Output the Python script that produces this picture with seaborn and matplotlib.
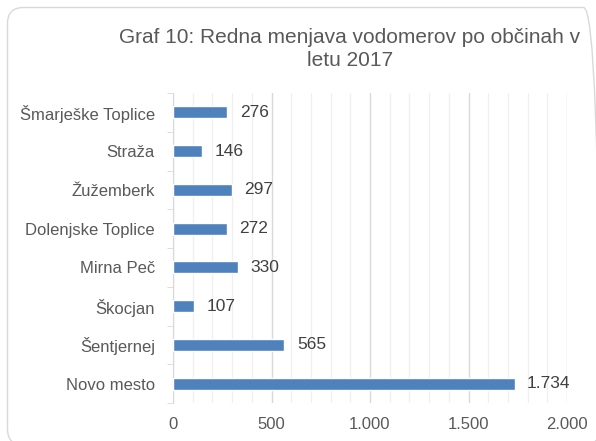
import numpy as np
import pandas as pd
import matplotlib
matplotlib.use("Agg")
import matplotlib.pyplot as plt
from matplotlib.patches import FancyBboxPatch
from matplotlib.ticker import MultipleLocator, FixedLocator, FuncFormatter
import seaborn as sns

# Data
obcine = ["Šmarješke Toplice", "Straža", "Žužemberk", "Dolenjske Toplice",
          "Mirna Peč", "Škocjan", "Šentjernej", "Novo mesto"]
vodomeri = [276, 146, 297, 272, 330, 107, 565, 1734]
title = "Graf 10: Redna menjava vodomerov po občinah v\nletu 2017"

sns.set_style("white")
plt.rcParams["font.family"] = ["Liberation Sans", "DejaVu Sans"]

df = pd.DataFrame({"obcina": obcine, "st": vodomeri})

fig = plt.figure(figsize=(5.96, 4.41), dpi=100)
ax = fig.add_axes([173 / 596, 1 - 403 / 441, (567 - 173) / 596, (403 - 93) / 441])

# rounded frame around the chart (pixel coordinates)
frame = FancyBboxPatch((7.5, -4), 592, 437.5,
                       boxstyle="round,pad=0,rounding_size=16",
                       transform=None, fill=False,
                       edgecolor="#d9d9d9", linewidth=1.0, clip_on=False)
fig.patches.append(frame)

sns.barplot(data=df, x="st", y="obcina", orient="h", color="#4f81bd",
            width=0.31, saturation=1, ax=ax, zorder=3)

ax.set_xlim(0, 2000)
ax.set_ylim(7.5, -0.5)
ax.xaxis.set_major_locator(MultipleLocator(500))
ax.xaxis.set_minor_locator(MultipleLocator(100))
ax.xaxis.set_major_formatter(FuncFormatter(lambda v, p: f"{int(v):,}".replace(",", ".")))
ax.grid(axis="x", which="major", color="#d9d9d9", linewidth=1.0, zorder=0)
ax.grid(axis="x", which="minor", color="#f0f0f0", linewidth=1.0, zorder=0)
ax.set_axisbelow(True)

for s in ["top", "right", "bottom"]:
    ax.spines[s].set_visible(False)
ax.spines["left"].set_color("#d9d9d9")

ax.yaxis.set_minor_locator(FixedLocator(np.arange(-0.5, 8.0, 1.0)))
ax.tick_params(axis="y", which="major", length=0, pad=13, labelsize=12, labelcolor="#595959")
ax.tick_params(axis="y", which="minor", length=4, color="#d9d9d9", left=True)
ax.tick_params(axis="x", which="both", length=0, pad=10, labelsize=12, labelcolor="#595959")
ax.set_xlabel("")
ax.set_ylabel("")

for i, v in enumerate(vodomeri):
    ax.annotate(f"{v:,}".replace(",", "."), (v, i), xytext=(9, 0),
                textcoords="offset points", va="center", ha="left",
                fontsize=12.5, color="#404040")

fig.text(350 / 596, 1 - 49 / 441, title, ha="center", va="center",
         fontsize=15, color="#595959", linespacing=1.3)

fig.savefig("out.png", dpi=100)
